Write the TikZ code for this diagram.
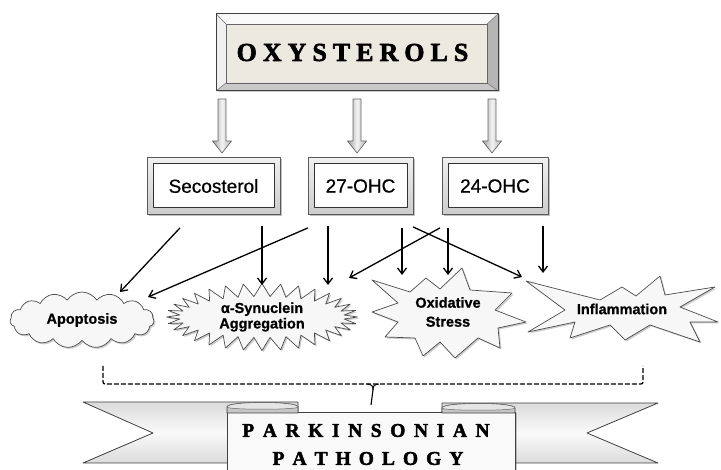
\documentclass[tikz,border=0pt]{standalone}
\usepackage{fontspec}
\setmainfont{Liberation Serif}
\newfontfamily\sanslab[FakeBold=0.6]{Liberation Sans}
\newfontfamily\sanslabb[BoldFeatures={FakeBold=0.8}]{Liberation Sans}
\newfontfamily\titlefont[FakeBold=2.2]{Liberation Serif Bold}
\usetikzlibrary{arrows.meta,shapes.symbols,shadows,calc}
\definecolor{faceC}{RGB}{236,234,224}
\newcommand\tka{\kern6.0pt}
\newcommand\tkb{\kern8.6pt}
\newcommand\tkc{\kern8.0pt}
\tikzset{
  outerbox/.style={draw=black!65, line width=0.8pt, top color=gray!12, bottom color=gray!40, minimum height=57pt, inner sep=0pt,
    drop shadow={shadow xshift=2pt,shadow yshift=-2pt,fill=black,opacity=0.25}},
  innerbox/.style={draw=black!80, line width=1pt, fill=white, minimum height=44pt, inner sep=0pt,
    font=\sanslab\fontsize{19}{22}\selectfont},
  hollow/.style={draw=black!60, line width=0.7pt, left color=gray!75, right color=gray!60, middle color=gray!10},
  conn/.style={-{Straight Barb[length=6pt,width=9pt]}, line width=1.3pt},
  lab/.style={font=\sanslabb\bfseries\fontsize{14.5}{15.5}\selectfont, align=center},
  burst/.style={draw=black!70, line width=0.7pt, fill=gray!6,
    drop shadow={shadow xshift=1.5pt,shadow yshift=-1.5pt,fill=black,opacity=0.2}},
  band/.style={draw=black!75, line width=0.8pt, top color=gray!28, bottom color=gray!28, middle color=gray!4},
  curl/.style={draw=black!75, line width=0.8pt, fill=gray!45},
  ttl/.style={font=\titlefont\fontsize{26}{30}\selectfont, inner sep=0pt},
  ttlb/.style={font=\titlefont\fontsize{19.5}{22}\selectfont, inner sep=0pt},
}
\begin{document}
\begin{tikzpicture}[x=1pt,y=-1pt,line join=round]
\useasboundingbox (0,0) rectangle (721,470);

% ---------- OXYSTEROLS bevelled box ----------
\node[minimum width=282pt, minimum height=77pt, inner sep=0pt, fill=faceC,
  drop shadow={shadow xshift=1.5pt,shadow yshift=-1.5pt,fill=black,opacity=0.2}] (oxy) at (357,52.5) {};
\fill[gray!5] (216,14) -- (498,14) -- (487,24) -- (226,24) -- cycle;
\fill[gray!12] (216,14) -- (226,24) -- (226,83) -- (216,91) -- cycle;
\fill[gray!58] (498,14) -- (498,91) -- (487,83) -- (487,24) -- cycle;
\fill[gray!42] (216,91) -- (498,91) -- (487,83) -- (226,83) -- cycle;
\draw[black!55, line width=0.5pt] (216,14) -- (226,24) (498,14) -- (487,24) (216,91) -- (226,83) (498,91) -- (487,83);
\draw[black!60, line width=0.6pt] (226,24) rectangle (487,83);
\draw[black!75, line width=1pt] (216,14) rectangle (498,91);
\node[ttl] (oxyt) at (352.5,52.5) {O\tka X\tka Y\tka S\tka T\tka E\tka R\tka O\tka L\tka S};

% ---------- hollow arrows ----------
\foreach \c in {222,357,492}
  \draw[hollow] (\c-4,99) -- (\c+4,99) -- (\c+4,141) -- (\c+9.5,141) -- (\c,153) -- (\c-9.5,141) -- (\c-4,141) -- cycle;

% ---------- double boxes ----------
\node[outerbox, minimum width=133pt] (seco) at (213.5,186) {};
\node[innerbox, minimum width=121pt] (secoin) at (seco) {Secosterol};
\node[outerbox, minimum width=105pt] (o27) at (360.5,186) {};
\node[innerbox, minimum width=93pt] (o27in) at (o27) {27-OHC};
\node[outerbox, minimum width=106pt] (o24) at (495,186) {};
\node[innerbox, minimum width=94pt] (o24in) at (o24) {24-OHC};

% ---------- effect shapes ----------
\node[cloud, cloud puffs=15, cloud puff arc=115, aspect=2.6, burst,
  minimum width=144pt, minimum height=56pt, inner sep=0pt, lab] (apop) at (82,320) {Apoptosis};

\node[starburst, starburst points=32, starburst point height=13pt, random starburst=0, burst,
  minimum width=191pt, minimum height=58pt, inner sep=0pt, lab] (syn) at (262,317) {α-Synuclein\\Aggregation};

\draw[burst] (372,280) -- (410,292) -- (426,278) -- (440,289) -- (462,268) -- (470,290) -- (512,293)
  -- (495,310) -- (526,322) -- (498,328) -- (500,348) -- (478,338) -- (455,358) -- (440,342)
  -- (423,356) -- (415,338) -- (385,337) -- (398,322) -- (372,312) -- (398,303) -- cycle;
\node[lab, font=\sanslabb\bfseries\fontsize{14.5}{19}\selectfont] (oxi) at (448,312) {Oxidative\\Stress};

\draw[burst] (526,281) -- (600,300) -- (622,287) -- (636,296) -- (660,276) -- (665,295) -- (715,287)
  -- (680,307) -- (718,322) -- (690,322) -- (700,342) -- (650,325) -- (625,340) -- (610,325)
  -- (570,338) -- (575,322) -- (528,332) -- (565,310) -- cycle;
\node[lab] (infl) at (622,309) {Inflammation};

% ---------- thin connectors ----------
\draw[conn] ($(seco.south)+(-33.5,13)$) -- ($(apop.center)+(38,-28)$);
\draw[conn] ($(seco.south)+(48.5,11)$) -- ($(syn.center)+(0,-32)$);
\draw[conn] ($(o27.south)+(-52.5,13)$) -- ($(apop.center)+(66,-23)$);
\draw[conn] ($(o27.south)+(-32.5,11)$) -- ($(syn.center)+(66,-32)$);
\draw[conn] ($(o27.south)+(41.5,13)$) -- ($(oxi.center)+(-46,-37)$);
\draw[conn] ($(o27.south)+(52.5,12)$) -- ($(infl.center)+(-100,-32)$);
\draw[conn] ($(o24.south)+(-55,13)$) -- ($(syn.center)+(87,-39)$);
\draw[conn] ($(o24.south)+(-47,13)$) -- ($(oxi.center)+(0,-37)$);
\draw[conn] ($(o24.south)+(48,11)$) -- ($(infl.center)+(-79,-36)$);

% ---------- dashed bracket ----------
\draw[black, line width=1.3pt, dash pattern=on 5pt off 2pt, rounded corners=2pt] (103,366) -- (103,384) -- (643,384) -- (643,366);
\draw[line width=1pt] (367,384) .. controls (372,384.5) and (373,386) .. (373,390);
\draw[line width=1pt] (379,384) .. controls (374,384.5) and (373,386) .. (373,390);

% ---------- banner ----------
\draw[band] (83,402) -- (298,402) -- (298,463) -- (83,463) -- (153,433) -- cycle;
\draw[band] (442,403) -- (658,403) -- (587,433) -- (658,463) -- (442,463) -- cycle;
\node[draw=black!75, line width=0.8pt, fill=gray!5, minimum width=288pt, minimum height=62pt, inner sep=0pt,
  drop shadow={shadow xshift=1.5pt,shadow yshift=-1.5pt,fill=black,opacity=0.2}] (banner) at (371,443) {};
\draw[curl] (227,413) -- (227,407) .. controls (227,401) and (298,401) .. (298,407) -- (298,413) -- cycle;
\draw[black!60, line width=0.5pt, fill=gray!20] (227,407) .. controls (227,401) and (298,401) .. (298,407)
  .. controls (298,410) and (227,410) .. (227,407) -- cycle;
\draw[curl] (442,413) -- (442,408) .. controls (442,402) and (515,402) .. (515,408) -- (515,413) -- cycle;
\draw[black!60, line width=0.5pt, fill=gray!20] (442,408) .. controls (442,402) and (515,402) .. (515,408)
  .. controls (515,411) and (442,411) .. (442,408) -- cycle;
\draw[line width=1.1pt] (373,390) -- (banner.north |- 0,405);

\node[ttlb] (t1) at (366,430.5) {P\tkb A\tkb R\tkb K\tkb I\tkb N\tkb S\tkb O\tkb N\tkb I\tkb A\tkb N};
\node[ttlb] (t2) at (368,458.5) {P\tkc A\tkc T\tkc H\tkc O\tkc L\tkc O\tkc G\tkc Y};
\end{tikzpicture}
\end{document}
